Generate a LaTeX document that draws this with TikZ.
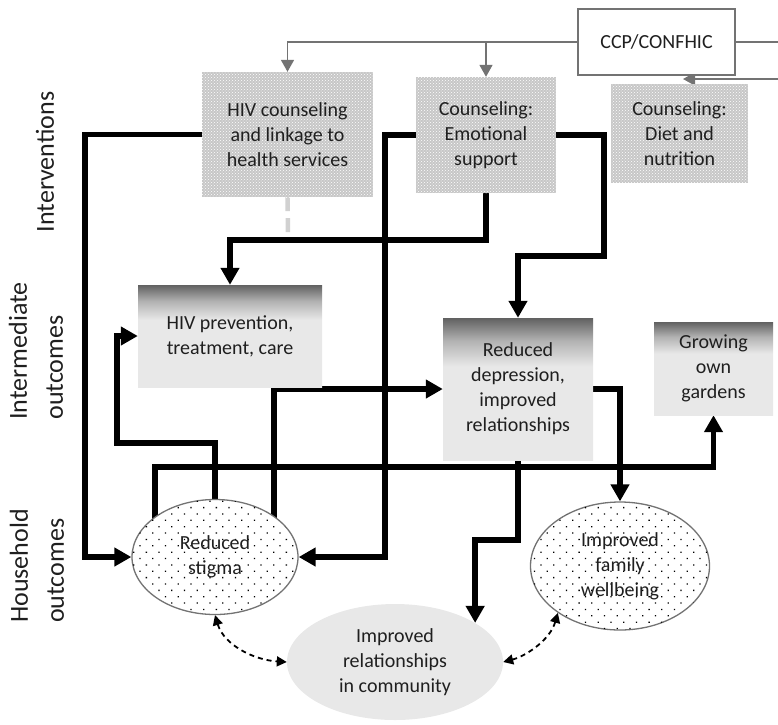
\documentclass[tikz,border=0pt]{standalone}
\usepackage{fontspec}
\setmainfont{Carlito}
\usetikzlibrary{arrows.meta,patterns,patterns.meta,shapes.geometric,calc}

\pgfdeclarelayer{back}
\pgfsetlayers{back,main}

% vertical fade used by the outcome boxes: dark band at the top, light below
\definecolor{fadetop}{gray}{0.38}
\definecolor{fademid}{gray}{0.70}
\definecolor{fadelow}{gray}{0.91}
\pgfdeclareverticalshading{outcomefade}{100bp}{color(0bp)=(fadelow); color(25bp)=(fadelow); color(58bp)=(fadelow); color(67bp)=(fademid); color(75bp)=(fadetop); color(100bp)=(fadetop)}

\tikzset{
  boxtext/.style={font=\fontsize{20}{25}\selectfont, text=black!88, align=center, inner sep=0pt},
  interv/.style={boxtext, rectangle, fill=black!22,
    postaction={pattern=crosshatch dots, pattern color=white}},
  outc/.style={boxtext, rectangle, shading=outcomefade},
  dotell/.style={boxtext, ellipse, draw=black!55, line width=1.3pt, fill=white,
    postaction={pattern={Dots[distance=9pt, angle=45, radius=0.9pt]}, pattern color=black}},
  softell/.style={boxtext, ellipse, fill=black!9},
  rowlabel/.style={rotate=90, font=\fontsize{26}{36}\selectfont, text=black!88, inner sep=0pt},
  flow/.style={line width=5.5pt, black, -{Triangle[length=17pt,width=18pt]}},
  feed/.style={line width=1.6pt, black!55, -{Triangle[length=12pt,width=13pt]}},
  dashflow/.style={line width=1.8pt, black, dash pattern=on 5pt off 4pt,
    {Triangle[length=10pt,width=10pt]}-{Triangle[length=10pt,width=10pt]}},
  ghostline/.style={line width=4.5pt, black!18, dash pattern=on 14pt off 7pt}
}

\begin{document}
\begin{tikzpicture}[x=1pt,y=-1pt]
\useasboundingbox (0,0) rectangle (778,724);

% row labels
\node[rowlabel] (lint) at (45,162) {Interventions};
\node[rowlabel, align=left] (lmid) at (36,351) {Intermediate\\outcomes};
\node[rowlabel, align=left] (lhh) at (37,566) {Household\\outcomes};

% implementing partner
\node[boxtext, rectangle, draw=black!55, line width=1.3pt, fill=white,
      minimum width=157pt, minimum height=66pt] (ccp) at (656.5,42) {CCP/CONFHIC};

% interventions
\node[interv, minimum width=171pt, minimum height=125pt] (hivc) at (287.5,134.5)
  {HIV counseling\\and linkage to\\health services};
\node[interv, minimum width=140pt, minimum height=116pt] (emo) at (486,135)
  {Counseling:\\Emotional\\support};
\node[interv, minimum width=137pt, minimum height=99pt] (diet) at (679.5,133.5)
  {Counseling:\\Diet and\\nutrition};

% intermediate outcomes
\node[outc, minimum width=184pt, minimum height=102pt] (prev) at (230,336)
  {HIV prevention,\\treatment, care};
\node[outc, minimum width=150pt, minimum height=142pt] (depr) at (518,389)
  {Reduced\\depression,\\improved\\relationships};
\node[outc, minimum width=119pt, minimum height=93pt] (gard) at (713.5,368.5)
  {Growing\\own\\gardens};

% household outcomes
\node[dotell, minimum width=166pt, minimum height=115pt] (stigma) at (215,557)
  {Reduced\\stigma};
\node[dotell, minimum width=179pt, minimum height=128pt] (family) at (620,566)
  {Improved\\family\\wellbeing};
\node[softell, minimum width=216pt, minimum height=116pt] (comm) at (395,662)
  {Improved\\relationships\\in community};

\coordinate (dietin) at (683,79);

\begin{pgfonlayer}{back}
  % partner feeding the interventions
  \draw[feed] (ccp.west) -- (hivc.north |- ccp.west) -- (hivc.north);
  \draw[feed] (emo.north |- ccp.west) -- (emo.north);
  \draw[feed] (ccp.east) -- (781,42) -- (781,79) -- (dietin);

  % faint trace under the HIV counseling box
  \draw[ghostline] (hivc.south) -- (288,237);

  % interventions to outcomes
  \draw[flow] (hivc.west) -- (85,134.5) |- (stigma.west);
  \draw[flow] (emo.west) -- (385,135) |- (stigma.east);
  \draw[flow] (emo.south) -- (486,240) -| (prev.north);
  \draw[flow] (emo.east) -- (604,135) -- (604,256) -| (depr.north);

  % household feedback into intermediate outcomes
  \draw[flow] (stigma.north) -- (215,443) -- (117,443) |- (prev.west);
  \draw[flow] ([xshift=59pt]stigma.center) |- (depr.west);
  \draw[flow] ([xshift=-60pt]stigma.center) -- (155,467) -| (gard.south);

  % reduced depression to household outcomes
  \draw[flow] (depr.east) -| (family.north);
  \draw[flow] (depr.south) -- (518,540) -| (comm.26);

  % mutual links with the community
  \draw[dashflow] (stigma.south) .. controls (224,645) and (254,660) .. (comm.west);
  \draw[dashflow] (family.217) .. controls (550,640) and (526,656) .. (comm.east);
\end{pgfonlayer}
\end{tikzpicture}
\end{document}
